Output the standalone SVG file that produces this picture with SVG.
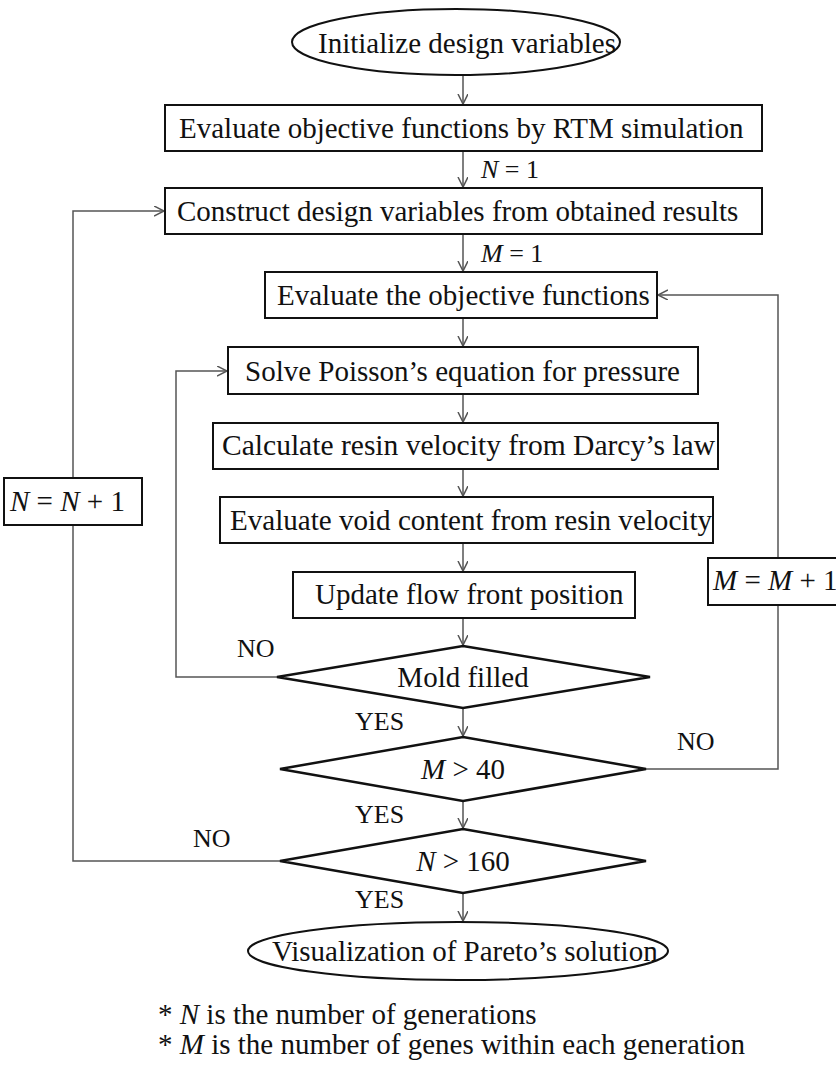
<svg xmlns="http://www.w3.org/2000/svg" width="836" height="1073" viewBox="0 0 836 1073">
<style>
.bg{fill:#fff}
.box{fill:#fff;stroke:#111;stroke-width:2}
.dia{fill:#fff;stroke:#111;stroke-width:2.5}
.t{font-family:"Liberation Serif","Times New Roman",serif;font-size:29px;fill:#111}
.l{font-family:"Liberation Serif","Times New Roman",serif;font-size:26px;fill:#111}
.m{text-anchor:middle}
.i{font-style:italic}
.c{fill:none;stroke:#555;stroke-width:1.5}
.a{marker-end:url(#arr)}
</style>
<defs>
<marker id="arr" markerUnits="userSpaceOnUse" markerWidth="12" markerHeight="12" refX="10" refY="5" orient="auto">
<path d="M0,0 L10,5 L0,10" fill="none" stroke="#555" stroke-width="1.5"/>
</marker>
</defs>
<rect class="bg" x="0" y="0" width="836" height="1073"/>
<g id="connectors">
<path class="c a" d="M463,75 V104"/>
<path class="c a" d="M463,151 V187"/>
<path class="c a" d="M463,234 V271"/>
<path class="c a" d="M463,318 V346"/>
<path class="c a" d="M463,394 V422"/>
<path class="c a" d="M463,469 V496"/>
<path class="c a" d="M463,543 V571"/>
<path class="c a" d="M463,618 V645"/>
<path class="c a" d="M463,708 V736"/>
<path class="c a" d="M463,801 V828"/>
<path class="c a" d="M463,893 V921"/>
<path class="c a" d="M277,677 H176 V371 H227"/>
<path class="c a" d="M280,861 H73 V211 H164"/>
<path class="c a" d="M646,769 H778 V295 H658"/>
</g>
<g id="start">
<ellipse class="box" cx="456" cy="42" rx="164" ry="33"/>
<text class="t" x="318" y="53">Initialize design variables</text>
</g>
<g id="eval-rtm">
<rect class="box" x="165" y="105" width="597" height="46"/>
<text class="t" x="179" y="138">Evaluate objective functions by RTM simulation</text>
</g>
<g id="construct">
<rect class="box" x="165" y="188" width="597" height="46"/>
<text class="t" x="177" y="221">Construct design variables from obtained results</text>
</g>
<g id="eval-obj">
<rect class="box" x="265" y="272" width="392" height="46"/>
<text class="t" x="277" y="305">Evaluate the objective functions</text>
</g>
<g id="solve">
<rect class="box" x="228" y="347" width="470" height="47"/>
<text class="t" x="245" y="381">Solve Poisson’s equation for pressure</text>
</g>
<g id="calc">
<rect class="box" x="213" y="423" width="505" height="46"/>
<text class="t" x="222" y="455" textLength="493" lengthAdjust="spacingAndGlyphs">Calculate resin velocity from Darcy’s law</text>
</g>
<g id="void">
<rect class="box" x="220" y="497" width="493" height="46"/>
<text class="t" x="230" y="530" textLength="482" lengthAdjust="spacingAndGlyphs">Evaluate void content from resin velocity</text>
</g>
<g id="update">
<rect class="box" x="293" y="572" width="342" height="46"/>
<text class="t" x="315" y="604">Update flow front position</text>
</g>
<g id="mold">
<polygon class="dia" points="463,646 650,677 463,708 277,677"/>
<text class="t m" x="463" y="687">Mold filled</text>
</g>
<g id="m40">
<polygon class="dia" points="463,737 646,769 463,801 280,769"/>
<text class="t m" x="463" y="779"><tspan class="i">M</tspan> &gt; 40</text>
</g>
<g id="n160">
<polygon class="dia" points="463,829 646,861 463,893 280,861"/>
<text class="t m" x="463" y="871"><tspan class="i">N</tspan> &gt; 160</text>
</g>
<g id="end">
<ellipse class="box" cx="458" cy="951" rx="210" ry="29"/>
<text class="t" x="272" y="961">Visualization of Pareto’s solution</text>
</g>
<g id="n-inc">
<rect class="box" x="4" y="478" width="138" height="47"/>
<text class="t" x="10" y="511"><tspan class="i">N</tspan> = <tspan class="i">N</tspan> + 1</text>
</g>
<g id="m-inc">
<rect class="box" x="708" y="558" width="140" height="47"/>
<text class="t" x="713" y="590"><tspan class="i">M</tspan> = <tspan class="i">M</tspan> + 1</text>
</g>
<g id="labels">
<text class="l" x="481" y="178"><tspan class="i">N</tspan> = 1</text>
<text class="l" x="481" y="262"><tspan class="i">M</tspan> = 1</text>
<text class="l" x="237" y="657">NO</text>
<text class="l" x="355" y="730">YES</text>
<text class="l" x="677" y="750">NO</text>
<text class="l" x="355" y="823">YES</text>
<text class="l" x="193" y="847">NO</text>
<text class="l" x="355" y="908">YES</text>
</g>
<g id="notes">
<text class="t" x="158" y="1024">* <tspan class="i">N</tspan> is the number of generations</text>
<text class="t" x="158" y="1054">* <tspan class="i">M</tspan> is the number of genes within each generation</text>
</g>
</svg>
